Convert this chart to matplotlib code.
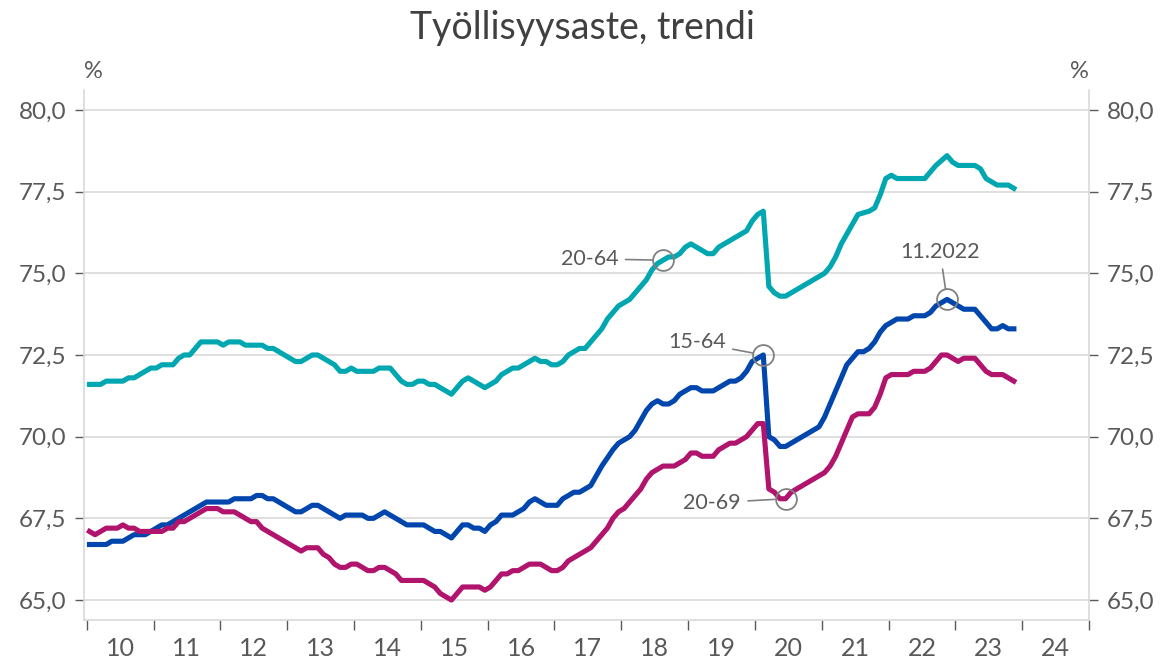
import matplotlib.pyplot as plt
import numpy as np

plt.rcParams['font.family'] = ['Lato', 'DejaVu Sans']

# -------------- data: monthly trend, Jan 2010 .. Nov 2023 --------------
START_YEAR = 2010

# 20-64
Rate2064 = [71.6, 71.6, 71.6, 71.7, 71.7, 71.7, 71.7, 71.8, 71.8, 71.9, 72.0, 72.1,
            72.1, 72.2, 72.2, 72.2, 72.4, 72.5, 72.5, 72.7, 72.9, 72.9, 72.9, 72.9,
            72.8, 72.9, 72.9, 72.9, 72.8, 72.8, 72.8, 72.8, 72.7, 72.7, 72.6, 72.5,
            72.4, 72.3, 72.3, 72.4, 72.5, 72.5, 72.4, 72.3, 72.2, 72.0, 72.0, 72.1,
            72.0, 72.0, 72.0, 72.0, 72.1, 72.1, 72.1, 71.9, 71.7, 71.6, 71.6, 71.7,
            71.7, 71.6, 71.6, 71.5, 71.4, 71.3, 71.5, 71.7, 71.8, 71.7, 71.6, 71.5,
            71.6, 71.7, 71.9, 72.0, 72.1, 72.1, 72.2, 72.3, 72.4, 72.3, 72.3, 72.2,
            72.2, 72.3, 72.5, 72.6, 72.7, 72.7, 72.9, 73.1, 73.3, 73.6, 73.8, 74.0,
            74.1, 74.2, 74.4, 74.6, 74.8, 75.1, 75.3, 75.4, 75.5, 75.5, 75.6, 75.8,
            75.9, 75.8, 75.7, 75.6, 75.6, 75.8, 75.9, 76.0, 76.1, 76.2, 76.3, 76.6,
            76.8, 76.9, 74.6, 74.4, 74.3, 74.3, 74.4, 74.5, 74.6, 74.7, 74.8, 74.9,
            75.0, 75.2, 75.5, 75.9, 76.2, 76.5, 76.8, 76.85, 76.9, 77.0, 77.4, 77.9,
            78.0, 77.9, 77.9, 77.9, 77.9, 77.9, 77.9, 78.1, 78.3, 78.45, 78.6, 78.4,
            78.3, 78.3, 78.3, 78.3, 78.2, 77.9, 77.8, 77.7, 77.7, 77.7, 77.6]

# 15-64
Rate1564 = [66.7, 66.7, 66.7, 66.7, 66.8, 66.8, 66.8, 66.9, 67.0, 67.0, 67.0, 67.1,
            67.2, 67.3, 67.3, 67.4, 67.5, 67.6, 67.7, 67.8, 67.9, 68.0, 68.0, 68.0,
            68.0, 68.0, 68.1, 68.1, 68.1, 68.1, 68.2, 68.2, 68.1, 68.1, 68.0, 67.9,
            67.8, 67.7, 67.7, 67.8, 67.9, 67.9, 67.8, 67.7, 67.6, 67.5, 67.6, 67.6,
            67.6, 67.6, 67.5, 67.5, 67.6, 67.7, 67.6, 67.5, 67.4, 67.3, 67.3, 67.3,
            67.3, 67.2, 67.1, 67.1, 67.0, 66.9, 67.1, 67.3, 67.3, 67.2, 67.2, 67.1,
            67.3, 67.4, 67.6, 67.6, 67.6, 67.7, 67.8, 68.0, 68.1, 68.0, 67.9, 67.9,
            67.9, 68.1, 68.2, 68.3, 68.3, 68.4, 68.5, 68.8, 69.1, 69.35, 69.6, 69.8,
            69.9, 70.0, 70.2, 70.5, 70.8, 71.0, 71.1, 71.0, 71.0, 71.1, 71.3, 71.4,
            71.5, 71.5, 71.4, 71.4, 71.4, 71.5, 71.6, 71.7, 71.7, 71.8, 72.0, 72.3,
            72.4, 72.5, 70.0, 69.9, 69.7, 69.7, 69.8, 69.9, 70.0, 70.1, 70.2, 70.3,
            70.6, 71.0, 71.4, 71.8, 72.2, 72.4, 72.6, 72.6, 72.7, 72.9, 73.2, 73.4,
            73.5, 73.6, 73.6, 73.6, 73.7, 73.7, 73.7, 73.8, 74.0, 74.1, 74.2, 74.1,
            74.0, 73.9, 73.9, 73.9, 73.7, 73.5, 73.3, 73.3, 73.4, 73.3, 73.3]

# 20-69
Rate2069 = [67.1, 67.0, 67.1, 67.2, 67.2, 67.2, 67.3, 67.2, 67.2, 67.1, 67.1, 67.1,
            67.1, 67.1, 67.2, 67.2, 67.4, 67.4, 67.5, 67.6, 67.7, 67.8, 67.8, 67.8,
            67.7, 67.7, 67.7, 67.6, 67.5, 67.4, 67.4, 67.2, 67.1, 67.0, 66.9, 66.8,
            66.7, 66.6, 66.5, 66.6, 66.6, 66.6, 66.4, 66.3, 66.1, 66.0, 66.0, 66.1,
            66.1, 66.0, 65.9, 65.9, 66.0, 66.0, 65.9, 65.8, 65.6, 65.6, 65.6, 65.6,
            65.6, 65.5, 65.4, 65.2, 65.1, 65.0, 65.2, 65.4, 65.4, 65.4, 65.4, 65.3,
            65.4, 65.6, 65.8, 65.8, 65.9, 65.9, 66.0, 66.1, 66.1, 66.1, 66.0, 65.9,
            65.9, 66.0, 66.2, 66.3, 66.4, 66.5, 66.6, 66.8, 67.0, 67.2, 67.5, 67.7,
            67.8, 68.0, 68.2, 68.4, 68.7, 68.9, 69.0, 69.1, 69.1, 69.1, 69.2, 69.3,
            69.5, 69.5, 69.4, 69.4, 69.4, 69.6, 69.7, 69.8, 69.8, 69.9, 70.0, 70.2,
            70.4, 70.4, 68.4, 68.3, 68.1, 68.1, 68.3, 68.4, 68.5, 68.6, 68.7, 68.8,
            68.9, 69.1, 69.4, 69.8, 70.2, 70.6, 70.7, 70.7, 70.7, 70.9, 71.3, 71.8,
            71.9, 71.9, 71.9, 71.9, 72.0, 72.0, 72.0, 72.1, 72.3, 72.5, 72.5, 72.4,
            72.3, 72.4, 72.4, 72.4, 72.2, 72.0, 71.9, 71.9, 71.9, 71.8, 71.7]

YearLabels = ['10', '11', '12', '13', '14', '15', '16', '17', '18', '19', '20', '21', '22', '23', '24']
YTicks = [65.0, 67.5, 70.0, 72.5, 75.0, 77.5, 80.0]

# callouts: (series, month index, label, offset in points, ha)
Callouts = [(Rate2064, 103, '20-64', (-32, 1), 'right'),
            (Rate1564, 121, '15-64', (-27, 9), 'right'),
            (Rate2069, 125, '20-69', (-32, -3), 'right'),
            (Rate1564, 154, '11.2022', (-5, 34), 'center')]
# ------------------------------------------------------------------------

TEXT = '#595959'
GRID = '#D9D9D9'

Months = START_YEAR + (np.arange(len(Rate2064)) + 0.5) / 12

fig = plt.figure(figsize=(11.64, 6.66), dpi=100)
ax = fig.add_axes([0.0722, 0.0691, 0.8634, 0.7958])

ax.plot(Months, Rate2064, color='#00A7B1', linewidth=3.7, solid_joinstyle='round', zorder=3)
ax.plot(Months, Rate1564, color='#0046AD', linewidth=3.7, solid_joinstyle='round', zorder=3)
ax.plot(Months, Rate2069, color='#B0146D', linewidth=3.7, solid_joinstyle='round', zorder=3)

for series, idx, label, offs, ha in Callouts:
    ax.plot(Months[idx], series[idx], marker='o', markersize=15, mfc='none',
            mec='#808080', mew=1.3, zorder=4)
    ax.annotate(label, xy=(Months[idx], series[idx]), xytext=offs, textcoords='offset points',
                ha=ha, va='center', fontsize=15.5, color=TEXT,
                arrowprops=dict(arrowstyle='-', color='#808080', lw=1.2, shrinkA=3, shrinkB=8))

ax.set_xlim(2009.96, 2025.0)
ax.set_ylim(64.39, 80.61)

ax.set_yticks(YTicks)
ax.set_yticklabels([('%.1f' % v).replace('.', ',') for v in YTicks])
ax.yaxis.set_ticks_position('both')
ax.tick_params(axis='y', which='major', labelleft=True, labelright=True, length=6.5, width=1,
               color=TEXT, labelcolor=TEXT, labelsize=17.5, pad=6)
ax.grid(axis='y', color=GRID, linewidth=1.2, zorder=0)

Years = np.arange(START_YEAR, START_YEAR + len(YearLabels) + 1)
ax.set_xticks(Years)
ax.set_xticklabels([])
ax.set_xticks(Years[:-1] + 0.5, minor=True)
ax.set_xticklabels(YearLabels, minor=True)
ax.tick_params(axis='x', which='major', length=7, width=1, color=TEXT)
ax.tick_params(axis='x', which='minor', length=0, labelcolor=TEXT, labelsize=18, pad=12)

for side in ['left', 'right', 'bottom']:
    ax.spines[side].set_color(GRID)
    ax.spines[side].set_linewidth(1.2)
ax.spines['top'].set_visible(False)

fig.text(0.5, 0.958, 'Työllisyysaste, trendi', ha='center', va='center', fontsize=27, color='#404040')
fig.text(0.080, 0.892, '%', ha='center', va='center', fontsize=17, color=TEXT)
fig.text(0.927, 0.892, '%', ha='center', va='center', fontsize=17, color=TEXT)

fig.savefig('out.png', dpi=100)
